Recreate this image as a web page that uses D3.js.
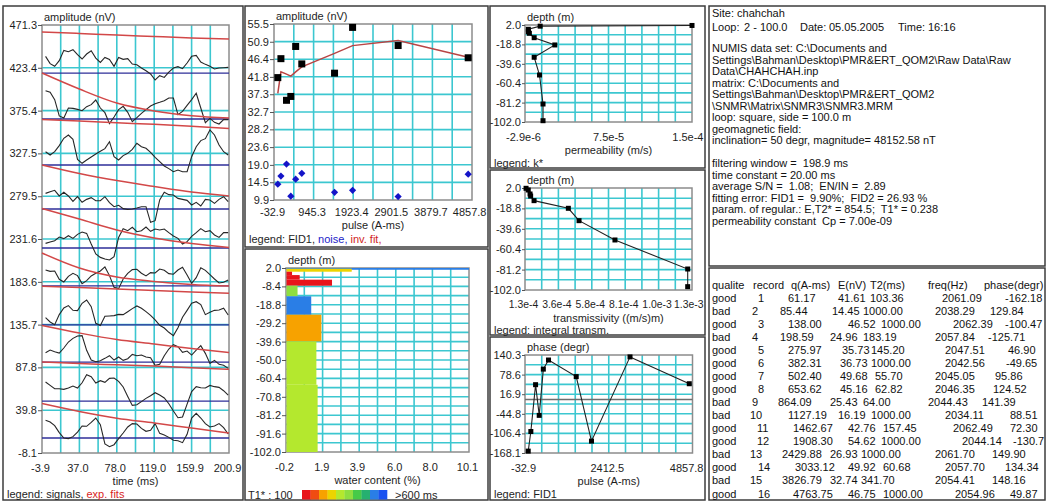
<!DOCTYPE html>
<html>
<head>
<meta charset="utf-8">
<script src="https://cdn.jsdelivr.net/npm/d3@7"></script>
<style>
  body { margin: 0; background: #fff; }
  svg { display: block; font-family: "Liberation Sans", Arial, sans-serif; font-size: 11px; }
</style>
</head>
<body>
<svg id="chart" width="1048" height="502"></svg>
<script>
// ---------------- survey records ----------------
const quality   = ["good","bad","good","bad","good","good","good","good","bad","bad","good","good","bad","good","bad","good"];
const recordNo  = [1,2,3,4,5,6,7,8,9,10,11,12,13,14,15,16];
const pulse     = [61.17,85.44,138.00,198.59,275.97,382.31,502.40,653.62,864.09,1127.19,1462.67,1908.30,2429.88,3033.12,3826.79,4763.75];
const amplitude = [41.61,14.45,46.52,24.96,35.73,36.73,49.68,45.16,25.43,16.19,42.76,54.62,26.93,49.92,32.74,46.75];
const t2        = [103.36,1000.00,1000.00,183.19,145.20,1000.00,55.70,62.82,64.00,1000.00,157.45,1000.00,1000.00,60.68,341.70,1000.00];
const freq      = [2061.09,2038.29,2062.39,2057.84,2047.51,2042.56,2045.05,2046.35,2044.43,2034.11,2062.49,2044.14,2061.70,2057.70,2054.41,2054.96];
const phase     = [-162.18,129.84,-100.47,-125.71,46.90,-49.65,95.86,124.52,141.39,88.51,72.30,-130.7,149.90,134.34,148.16,49.87];

// noise level and inversion fit for the good records (same order as the good rows)
const noiseGood = [14.0,16.1,19.2,10.9,15.3,16.8,11.9,12.4,10.8,16.6];
const invFitGood = [37.5,43.1,42.5,42.0,43.1,44.4,47.9,49.9,51.2,46.9];

// ---------------- FID signals (nV, relative to each trace offset) ----------------
const signalTimes = [0,5,10,15,20,25,30,35,40,45,50,55,60,65,70,75,80,85,90,95,100,105,110,115,120,125,130,135,140,145,150,155,160,165,170,175,180,185,190,195,200];
const signalOffsets = [417.5,366.0,314.5,265.2,221.5,179.0,135.3,93.8,50.1,8.7];
const sig1 = [18.7,10.5,7.5,13.8,25.4,23.9,26.1,20.5,15.7,21.3,25.0,16.8,11.9,17.5,15.3,7.5,17.5,15.3,16.1,10.1,9.3,5.6,2.6,-1.1,-7.8,-3.0,-4.9,1.1,5.6,7.1,4.9,11.2,18.7,19.8,12.3,9.7,7.5,4.5,5.6,6.0,6.3];
const sig2 = [31.7,29.9,21.7,3.4,1.1,12.3,11.9,10.8,9.3,13.8,16.1,21.3,12.3,7.1,-5.2,2.2,10.5,14.2,7.5,-3.0,1.5,6.3,10.5,14.6,17.2,18.7,20.5,23.5,23.5,4.9,8.6,15.3,21.7,28.8,12.3,-4.1,0.7,-3.7,-5.6,-0.7,-0.7];
const sig3 = [14.9,11.2,14.9,21.7,29.9,33.6,28.8,6.3,1.9,5.6,9.0,12.3,15.3,18.3,26.1,9.3,5.6,10.5,13.1,17.5,24.3,20.5,18.7,14.2,8.6,3.7,-1.1,-4.1,-7.5,-5.6,-7.5,-7.5,9.3,20.5,27.3,29.5,39.2,33.6,22.4,14.9,11.2];
const sig4 = [17.5,19.4,20.9,14.6,18.7,14.6,8.6,13.8,7.5,10.8,12.7,9.3,9.3,13.8,7.1,2.6,4.1,0.4,-0.4,0,1.1,2.6,2.6,-14.9,-13.1,10.1,18.7,16.1,15.7,11.9,10.8,9.7,4.5,7.5,3.4,10.8,10.1,6.3,10.8,13.8,8.2];
const sig5 = [5.2,6.7,8.2,12.3,10.5,13.8,10.8,15.3,17.9,16.4,4.5,-6.7,-10.5,-12.3,-13.4,-9.7,11.9,21.7,19.4,23.2,18.3,19.4,23.5,18.7,21.3,20.2,21.3,17.2,13.4,10.8,4.5,7.1,13.1,17.2,21.7,18.3,19.4,14.6,11.9,17.2,17.2];
const sig6 = [17.9,16.4,16.8,7.5,4.5,10.8,14.2,11.6,2.6,6.0,11.2,14.2,16.8,21.3,11.6,-1.5,-3.0,7.8,14.2,18.3,18.7,14.2,11.2,14.9,14.6,19.0,17.5,13.8,13.1,17.9,20.9,12.3,3.0,9.3,20.5,17.5,12.7,7.8,3.4,4.1,6.7];
const sig7 = [8.2,3.4,0.4,11.6,19.0,21.7,16.4,16.1,24.3,28.0,20.5,1.9,-0.7,9.7,10.1,10.5,11.9,11.6,14.9,18.3,21.3,18.7,14.9,10.8,5.6,-0.4,-3.4,-8.2,-11.9,-3.0,8.6,16.4,24.3,26.1,22.8,11.6,14.2,16.4,16.8,18.7,11.2];
const sig8 = [10.5,13.4,11.6,10.1,15.7,22.4,26.5,29.1,29.5,13.1,2.2,0.4,1.5,4.1,7.1,2.2,5.6,1.9,3.7,8.6,7.1,7.8,5.6,4.9,-3.7,-2.6,7.1,14.6,19.4,17.2,10.8,12.3,7.8,13.4,18.3,9.7,-1.5,1.9,-2.6,-3.7,-7.1];
const sig9 = [21.3,17.5,13.8,13.8,13.1,14.6,16.8,14.6,20.5,29.5,27.3,20.2,22.8,20.9,25.4,25.8,22.0,15.7,5.2,-4.9,-4.1,-0.7,3.0,6.0,9.3,6.7,3.4,-3.0,-11.2,-18.7,-17.9,-3.4,10.5,16.1,14.9,14.6,17.5,16.1,15.3,11.6,6.7];
const sig10 = [19.8,17.9,13.8,6.0,0,-0.7,1.5,6.7,13.4,13.1,17.5,22.4,14.9,-6.7,-9.7,-7.5,-0.7,5.6,12.3,16.1,15.7,10.8,7.5,8.6,16.1,5.2,3.4,0.7,-2.6,-3.0,-5.2,4.1,22.4,27.6,22.4,16.1,12.3,13.4,16.1,11.6,4.5];
const signals = [sig1,sig2,sig3,sig4,sig5,sig6,sig7,sig8,sig9,sig10];

// exponential fit curves (nV, as plotted)
const fitTimes = [-3.9,37.0,78.0,119.0,159.9,200.9];
const fit1 = [463.5,461.8,460.0,458.4,456.8,455.6];
const fit2 = [417.5,399.6,383.9,375.0,369.7,367.1];
const fit3 = [365.4,363.7,361.8,360.0,357.8,355.3];
const fit4 = [314.5,305.0,297.1,290.4,284.2,279.8];
const fit5 = [265.8,254.0,241.7,232.8,226.6,222.1];
const fit6 = [215.9,199.1,189.0,184.0,180.6,178.9];
const fit7 = [178.6,177.3,175.6,173.9,172.3,170.8];
const fit8 = [134.7,126.3,119.0,114.0,108.9,104.4];
const fit9 = [93.8,92.1,90.7,89.3,87.4,85.6];
const fit10 = [47.3,38.4,30.8,25.5,19.9,14.3];
const fits = [fit1,fit2,fit3,fit4,fit5,fit6,fit7,fit8,fit9,fit10];

// ---------------- inversion model ----------------
const layerTop     = [2.0, 1.6, -0.1, -2.0, -4.6, -8.0, -14.0, -24.4, -39.5, -64.0];
const layerBottom  = [1.0, -0.1, -2.0, -4.6, -8.0, -14.0, -24.4, -39.5, -64.0, -102.0];
const waterContent = [10.1, 3.5, 0.14, 0.57, 2.39, 0.45, 1.22, 1.79, 1.51, 1.58];
const layerT1      = [530, 270, 120, 120, 120, 370, 530, 220, 320, 320];

const kDepth = [1.5, 0.75, -2.6, -5.2, -6.9, -11.6, -19.4, -32.6, -51.6, -82.7, -100.6];
const kValue = [1.5e-4, 1.1e-5, 1.6e-7, 1.6e-7, 1.1e-6, 5.5e-6, 2.44e-5, 5.5e-6, 1.04e-5, 1.36e-5, 1.36e-5];

const trDepth = [1.7, -0.04, -4.1, -6.2, -10.9, -18.7, -31.3, -51.0, -80.6, -98.6];
const trValue = [1.37e-4, 1.52e-4, 1.64e-4, 1.68e-4, 1.91e-4, 4.22e-4, 4.94e-4, 7.36e-4, 1.226e-3, 1.226e-3];

// ---------------- axis ticks ----------------
const sigYTicks = [-8.1,39.8,87.8,135.7,183.6,231.6,279.5,327.5,375.4,423.4,471.3];
const sigXTicks = [-3.9,37.0,78.0,119.0,159.9,200.9];
const ampYTicks = [9.9,14.5,19.0,23.6,28.2,32.7,37.3,41.8,46.4,50.9,55.5];
const pulseTicks = [-32.9,945.3,1923.4,2901.5,3879.7,4857.8];
const wcDepthTicks = [2.0,-8.4,-18.8,-29.2,-39.6,-50.0,-60.4,-70.8,-81.2,-91.6,-102.0];
const wcTicks = [-0.2,1.9,3.9,6.0,8.0,10.1];
const depthTicks = [2.0,-18.8,-39.6,-60.4,-81.2,-102.0];
const kTicks = [-2.9e-6,7.5e-5,1.5e-4];
const kTickLabels = ["-2.9e-6","7.5e-5","1.5e-4"];
const trTicks = [1.3e-4,3.55e-4,5.8e-4,8.05e-4,1.03e-3,1.255e-3];
const trTickLabels = ["1.3e-4","3.6e-4","5.8e-4","8.1e-4","1.0e-3","1.3e-3"];
const phaseYTicks = [-168.1,-106.4,-44.8,16.9,78.6,140.3];
const phaseXTicks = [-32.9,2412.5,4857.8];

// T1 colour classes (100 ms ... >600 ms)
const t1Colors = ["#e8141a","#f04c12","#f7a200","#ecd400","#b4e82e","#8ede40","#46ca48","#26b070","#2a7ee6","#1a52f0"];

// ---------------- text block ----------------
const infoSite = "Site: chahchah";
const infoLoop = ["Loop:", "2 - 100.0", "Date:", "05.05.2005", "Time:", "16:16"];
const infoFiles = [
  "NUMIS data set: C:\\Documents and",
  "Settings\\Bahman\\Desktop\\PMR&ERT_QOM2\\Raw Data\\Raw",
  "Data\\CHAHCHAH.inp",
  "matrix: C:\\Documents and",
  "Settings\\Bahman\\Desktop\\PMR&ERT_QOM2",
  "\\SNMR\\Matrix\\SNMR3\\SNMR3.MRM",
  "loop: square, side = 100.0 m",
  "geomagnetic field:",
  "inclination= 50 degr, magnitude= 48152.58 nT"
];
const infoProc = [
  "filtering window =  198.9 ms",
  "time constant = 20.00 ms",
  "average S/N =  1.08;  EN/IN =  2.89",
  "fitting error: FID1 =  9.90%;  FID2 = 26.93 %",
  "param. of regular.: E,T2* = 854.5;  T1* = 0.238",
  "permeability constant  Cp = 7.00e-09"
];
const tableHeader = ["qualite","record","q(A-ms)","E(nV)","T2(ms)","freq(Hz)","phase(degr)"];

// ====================================================================
const svg = d3.select("#chart");
const GRID = "#3cc7d0";
const FRAME = "#8c8c8c";
const INK = "#1e1e1e";

svg.append("rect").attr("width", 1048).attr("height", 502).attr("fill", "#fff");

// panel frames
const panels = [
  [3, 6, 243, 500], [245, 6, 488, 247], [245, 249, 488, 500],
  [490, 6, 705, 168], [490, 170, 705, 335], [490, 337, 705, 500],
  [709, 6, 1045, 266], [709, 268, 1045, 500]
];
svg.append("g").selectAll("rect").data(panels).join("rect")
  .attr("x", d => d[0]).attr("y", d => d[1])
  .attr("width", d => d[2] - d[0]).attr("height", d => d[3] - d[1])
  .attr("fill", "none").attr("stroke", "#3c3c3c").attr("stroke-width", 1.5);

function divisions(domain, n) {
  return d3.range(1, n).map(i => domain[0] + i * (domain[1] - domain[0]) / n);
}

function addPlot(c) {
  const x = d3.scaleLinear().domain(c.xDomain).range([c.left, c.right]);
  const y = d3.scaleLinear().domain(c.yDomain).range([c.bottom, c.top]);
  const g = svg.append("g");
  const grid = g.append("g").attr("stroke", GRID).attr("stroke-width", 1.6);
  grid.selectAll("line.v").data(divisions(c.xDomain, c.xDiv)).join("line").attr("class", "v")
    .attr("x1", d => x(d)).attr("x2", d => x(d)).attr("y1", c.top).attr("y2", c.bottom);
  grid.selectAll("line.h").data(divisions(c.yDomain, c.yDiv)).join("line").attr("class", "h")
    .attr("x1", c.left).attr("x2", c.right).attr("y1", d => y(d)).attr("y2", d => y(d));
  g.append("rect").attr("x", c.left).attr("y", c.top)
    .attr("width", c.right - c.left).attr("height", c.bottom - c.top)
    .attr("fill", "none").attr("stroke", FRAME).attr("stroke-width", 1.5);

  const yAxis = g.append("g").attr("transform", `translate(${c.left},0)`)
    .call(d3.axisLeft(y).tickValues(c.yTicks)
      .tickFormat((d, i) => c.yLabels ? c.yLabels[i] : d.toFixed(1))
      .tickSize(c.tickLen || 4).tickPadding(1));
  yAxis.select(".domain").remove();
  yAxis.attr("font-family", null).attr("font-size", null);
  yAxis.selectAll("line").attr("stroke", "#555");
  yAxis.selectAll("text").attr("fill", INK);

  const xAxis = g.append("g").attr("transform", `translate(0,${c.bottom})`)
    .call(d3.axisBottom(x).tickValues(c.xTicks)
      .tickFormat((d, i) => c.xLabels ? c.xLabels[i] : d.toFixed(1))
      .tickSize(0).tickPadding(c.xLabelGap - 4));
  xAxis.select(".domain").remove();
  xAxis.attr("font-family", null).attr("font-size", c.xLabelSize || null);
  xAxis.selectAll("text").attr("fill", INK).attr("x", -2);
  // keep the tick labels inside the panel
  xAxis.selectAll(".tick").each(function (d) {
    const t = d3.select(this).select("text");
    const w = t.node().getComputedTextLength();
    const cx = x(d) - 2;
    let shift = 0;
    if (cx + w / 2 > c.panelRight - 2) shift = (c.panelRight - 2) - (cx + w / 2);
    if (cx - w / 2 < c.panelLeft + 3) shift = (c.panelLeft + 3) - (cx - w / 2);
    t.attr("x", -2 + shift);
  });

  g.append("text").attr("x", c.left + 2).attr("y", c.top - 4).attr("fill", INK).text(c.yTitle);
  g.append("text").attr("x", (c.left + c.right) / 2).attr("y", c.bottom + c.titleGap + 4)
    .attr("text-anchor", "middle").attr("fill", INK).text(c.xTitle);
  return { x, y, g };
}

function legend(xPos, yPos, parts) {
  const t = svg.append("text").attr("x", xPos).attr("y", yPos + 4).attr("xml:space", "preserve");
  parts.forEach(p => t.append("tspan").attr("fill", p[1]).text(p[0]));
}

// ---------------- panel 1: FID signals ----------------
{
  const { x, y, g } = addPlot({
    left: 42, right: 229, top: 25, bottom: 453, panelLeft: 3, panelRight: 243,
    xDomain: [-3.9, 200.9], yDomain: [-8.1, 471.3], xDiv: 10, yDiv: 10,
    xTicks: sigXTicks, yTicks: sigYTicks, xLabelGap: 15, titleGap: 28,
    yTitle: "amplitude (nV)", xTitle: "time (ms)"
  });
  g.append("g").selectAll("line").data(signalOffsets).join("line")
    .attr("x1", x(-3.9)).attr("x2", x(200.9)).attr("y1", d => y(d)).attr("y2", d => y(d))
    .attr("stroke", "#2e2e98").attr("stroke-width", 1.3);
  const sigLine = d3.line().x((d, i) => x(signalTimes[i])).y(d => y(d));
  g.append("g").selectAll("path").data(signals.map((s, k) => s.map(v => v + signalOffsets[k]))).join("path")
    .attr("d", sigLine).attr("fill", "none").attr("stroke", "#262626").attr("stroke-width", 1.1);
  const fitLine = d3.line().curve(d3.curveMonotoneX).x((d, i) => x(fitTimes[i])).y(d => y(d));
  g.append("g").selectAll("path").data(fits).join("path")
    .attr("d", fitLine).attr("fill", "none").attr("stroke", "#d24848").attr("stroke-width", 1.5);
  legend(7, 494, [["legend: signals, ", INK], ["exp. fits", "#d81e1e"]]);
}

// ---------------- panel 2: amplitude vs pulse ----------------
const good = d3.range(pulse.length).filter(i => quality[i] === "good");
{
  const { x, y, g } = addPlot({
    left: 274, right: 472, top: 24, bottom: 200, panelLeft: 245, panelRight: 488,
    xDomain: [-32.9, 4857.8], yDomain: [9.9, 55.5], xDiv: 10, yDiv: 10,
    xTicks: pulseTicks, yTicks: ampYTicks, xLabelGap: 12, titleGap: 25,
    yTitle: "amplitude (nV)", xTitle: "pulse (A-ms)"
  });
  g.append("path").datum(good)
    .attr("d", d3.line().x(i => x(pulse[i])).y((i, k) => y(invFitGood[k])))
    .attr("fill", "none").attr("stroke", "#b84444").attr("stroke-width", 1.5);
  g.append("g").selectAll("rect").data(good).join("rect")
    .attr("x", i => x(pulse[i]) - 3.5).attr("y", i => y(amplitude[i]) - 3.5)
    .attr("width", 7).attr("height", 7).attr("fill", "#000");
  g.append("g").selectAll("path").data(good).join("path")
    .attr("transform", (i, k) => `translate(${x(pulse[i])},${y(noiseGood[k])})`)
    .attr("d", "M0,-3.6L3.6,0L0,3.6L-3.6,0Z").attr("fill", "#1414c8");
  legend(249, 239, [["legend: FID1, ", INK], ["noise, ", "#1c1cc8"], ["inv. fit,", "#d01e1e"]]);
}

// ---------------- panel 3: water content ----------------
{
  const { x, y, g } = addPlot({
    left: 286, right: 469, top: 268, bottom: 452, panelLeft: 245, panelRight: 488,
    xDomain: [-0.2, 10.1], yDomain: [-102.0, 2.0], xDiv: 10, yDiv: 20,
    xTicks: wcTicks, yTicks: wcDepthTicks, xLabelGap: 15, titleGap: 28,
    yTitle: "depth (m)", xTitle: "water content (%)"
  });
  const color = d3.scaleQuantize().domain([100, 600]).range(t1Colors);
  g.append("g").selectAll("rect").data(d3.range(waterContent.length)).join("rect")
    .attr("x", x(-0.2) + 0.5).attr("y", i => y(layerTop[i]))
    .attr("width", i => x(waterContent[i]) - x(-0.2) - 0.5)
    .attr("height", i => y(layerBottom[i]) - y(layerTop[i]))
    .attr("fill", i => color(layerT1[i]));
  // T1 colour legend
  svg.append("text").attr("x", 248).attr("y", 499).attr("fill", INK).text("T1* : 100");
  const lx = d3.scaleBand().domain(d3.range(t1Colors.length)).range([302, 387]);
  svg.append("g").selectAll("rect").data(t1Colors).join("rect")
    .attr("x", (d, i) => lx(i)).attr("y", 490).attr("width", lx.bandwidth() + 0.3).attr("height", 9.5)
    .attr("fill", d => d);
  svg.append("text").attr("x", 395).attr("y", 499).attr("fill", INK).text(">600 ms");
}

// ---------------- panel 4: permeability ----------------
{
  const { x, y, g } = addPlot({
    left: 525, right: 692, top: 25, bottom: 122, panelLeft: 490, panelRight: 705,
    xDomain: [-2.9e-6, 1.5e-4], yDomain: [-102.0, 2.0], xDiv: 10, yDiv: 10, tickLen: 3,
    xTicks: kTicks, xLabels: kTickLabels, yTicks: depthTicks, xLabelGap: 15, titleGap: 28,
    yTitle: "depth (m)", xTitle: "permeability (m/s)"
  });
  g.append("path").datum(d3.range(kValue.length))
    .attr("d", d3.line().x(i => x(kValue[i])).y(i => y(kDepth[i])))
    .attr("fill", "none").attr("stroke", "#222").attr("stroke-width", 1.1);
  g.append("g").selectAll("rect").data(d3.range(kValue.length)).join("rect")
    .attr("x", i => x(kValue[i]) - 2.5).attr("y", i => y(kDepth[i]) - 2.5)
    .attr("width", 5).attr("height", 5).attr("fill", "#000");
  legend(494, 163, [["legend: k*", INK]]);
}

// ---------------- panel 5: transmissivity ----------------
{
  const { x, y, g } = addPlot({
    left: 525, right: 692, top: 188, bottom: 290, panelLeft: 490, panelRight: 705,
    xDomain: [1.3e-4, 1.255e-3], yDomain: [-102.0, 2.0], xDiv: 10, yDiv: 10, tickLen: 3,
    xTicks: trTicks, xLabels: trTickLabels, yTicks: depthTicks, xLabelGap: 15, titleGap: 28,
    xLabelSize: "10.4px",
    yTitle: "depth (m)", xTitle: "transmissivity ((m/s)m)"
  });
  g.append("path").datum(d3.range(trValue.length))
    .attr("d", d3.line().x(i => x(trValue[i])).y(i => y(trDepth[i])))
    .attr("fill", "none").attr("stroke", "#222").attr("stroke-width", 1.1);
  g.append("g").selectAll("rect").data(d3.range(trValue.length)).join("rect")
    .attr("x", i => x(trValue[i]) - 2.5).attr("y", i => y(trDepth[i]) - 2.5)
    .attr("width", 5).attr("height", 5).attr("fill", "#000");
  legend(494, 330, [["legend: integral transm.", INK]]);
}

// ---------------- panel 6: phase ----------------
{
  const { x, y, g } = addPlot({
    left: 525, right: 692.5, top: 355, bottom: 453, panelLeft: 490, panelRight: 705,
    xDomain: [-32.9, 4857.8], yDomain: [-168.1, 140.3], xDiv: 10, yDiv: 10, tickLen: 3,
    xTicks: phaseXTicks, yTicks: phaseYTicks, xLabelGap: 15, titleGap: 28,
    yTitle: "phase (degr)", xTitle: "pulse (A-ms)"
  });
  g.append("line").attr("x1", 525).attr("x2", 692.5).attr("y1", y(0)).attr("y2", y(0))
    .attr("stroke", "#6e6e6e").attr("stroke-width", 1.5);
  g.append("path").datum(good)
    .attr("d", d3.line().x(i => x(pulse[i])).y(i => y(phase[i])))
    .attr("fill", "none").attr("stroke", "#222").attr("stroke-width", 1.1);
  g.append("g").selectAll("rect").data(good).join("rect")
    .attr("x", i => x(pulse[i]) - 2.5).attr("y", i => y(phase[i]) - 2.5)
    .attr("width", 5).attr("height", 5).attr("fill", "#000");
  legend(494, 494, [["legend: FID1", INK]]);
}

// ---------------- text block ----------------
{
  const g = svg.append("g").attr("fill", "#111");
  g.append("text").attr("x", 712).attr("y", 17).text(infoSite);
  const loopX = [712, 744, 800, 829, 898, 928];
  g.selectAll("text.loop").data(infoLoop).join("text").attr("class", "loop")
    .attr("x", (d, i) => loopX[i]).attr("y", 31).text(d => d);
  const lines = [];
  infoFiles.forEach((s, i) => lines.push([s, 48 + i * 11.5]));
  infoProc.forEach((s, i) => lines.push([s, 163 + i * 11.5]));
  g.selectAll("text.info").data(lines).join("text").attr("class", "info")
    .attr("xml:space", "preserve")
    .attr("x", 712).attr("y", d => d[1] + 4).text(d => d[0]);
}

// ---------------- record table ----------------
{
  svg.append("clipPath").attr("id", "tableClip")
    .append("rect").attr("x", 709).attr("y", 268).attr("width", 335.5).attr("height", 232);
  const g = svg.append("g").attr("clip-path", "url(#tableClip)").attr("fill", "#111");
  const headX = [712, 753, 791, 838, 870, 928, 984];
  g.selectAll("text.h").data(tableHeader).join("text").attr("class", "h")
    .attr("x", (d, i) => headX[i]).attr("y", 288.5).text(d => d);
  // start position of each cell, row by row
  const cellX = [
    [758,788,838,870,942,1005],[752,780,832,863,935,990],[758,788,848,881,953,1005],[752,780,830,863,935,988],
    [758,788,842,871,945,1008],[758,788,840,871,945,1006],[758,788,840,875,935,995],[758,788,840,875,935,993],
    [752,778,830,863,928,982],[750,788,838,871,945,1010],[757,793,848,883,953,1010],[757,793,848,881,962,1013],
    [750,782,830,861,935,992],[758,795,848,883,945,1005],[750,782,830,861,935,992],[758,793,848,883,955,1010]
  ];
  const rowY = i => 297.5 + i * 13.07 + 4;
  d3.range(quality.length).forEach(i => {
    const cells = [String(recordNo[i]), pulse[i].toFixed(2), amplitude[i].toFixed(2),
                   t2[i].toFixed(2), freq[i].toFixed(2), phase[i].toFixed(i === 11 ? 1 : 2)];
    g.append("text").attr("x", 712).attr("y", rowY(i)).text(quality[i]);
    cells.forEach((s, k) => g.append("text").attr("x", cellX[i][k]).attr("y", rowY(i)).text(s));
  });
}
</script>
</body>
</html>
